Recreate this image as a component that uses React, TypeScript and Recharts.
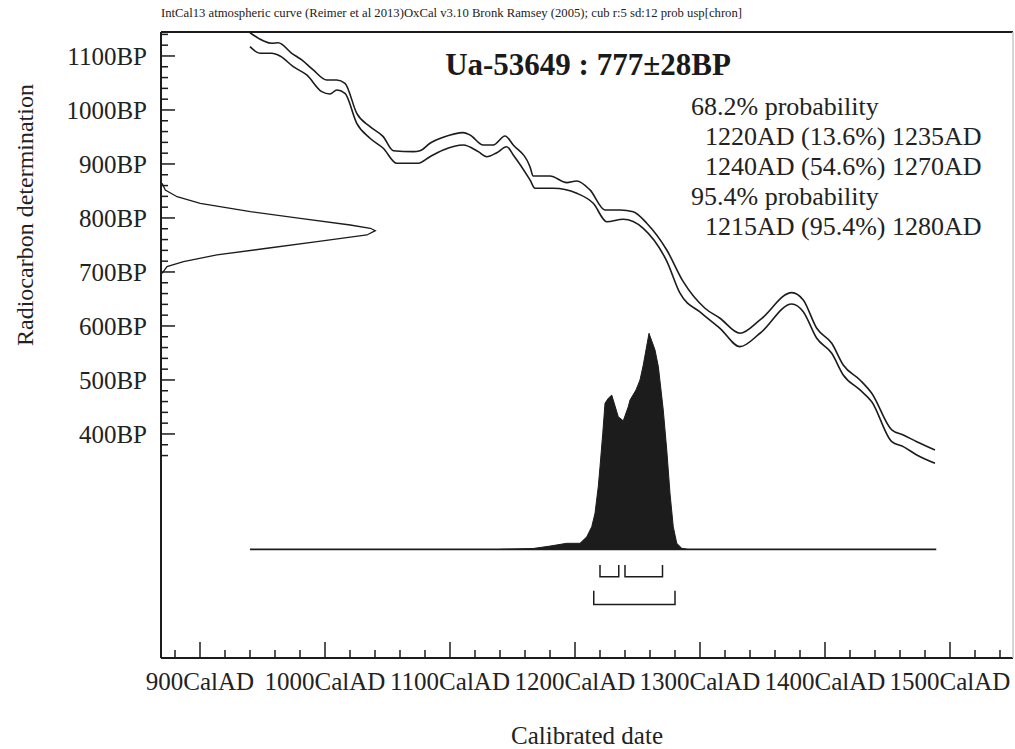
import React from "react";
import { ComposedChart, Line, Area, XAxis, YAxis, ReferenceLine } from "recharts";

// header / annotation text
const headerText =
  "IntCal13 atmospheric curve (Reimer et al 2013)OxCal v3.10 Bronk Ramsey (2005); cub r:5 sd:12 prob usp[chron]";
const titleText = "Ua-53649 : 777±28BP";
const probHeadings = ["68.2% probability", "95.4% probability"];
const oneSigmaText = ["1220AD (13.6%) 1235AD", "1240AD (54.6%) 1270AD"];
const twoSigmaText = ["1215AD (95.4%) 1280AD"];

// axes
const xTicks = [880, 900, 920, 940, 960, 980, 1000, 1020, 1040, 1060, 1080, 1100, 1120, 1140, 1160, 1180, 1200, 1220, 1240, 1260, 1280, 1300, 1320, 1340, 1360, 1380, 1400, 1420, 1440, 1460, 1480, 1500, 1520, 1540];
const xLabelYears = [900, 1000, 1100, 1200, 1300, 1400, 1500];
const yTicks = [360, 380, 400, 420, 440, 460, 480, 500, 520, 540, 560, 580, 600, 620, 640, 660, 680, 700, 720, 740, 760, 780, 800, 820, 840, 860, 880, 900, 920, 940, 960, 980, 1000, 1020, 1040, 1060, 1080, 1100, 1120, 1140];
const yLabelBP = [400, 500, 600, 700, 800, 900, 1000, 1100];

// calibration curve (IntCal13 +/- 1 sigma)
const upperYears = [940, 950.6, 957.4, 962.6, 973.4, 981.4, 990.6, 1001.4, 1009.4, 1016, 1025.4, 1036, 1046.6, 1054.6, 1070.6, 1076, 1084, 1094.6, 1110.6, 1116, 1126.6, 1134.6, 1144, 1150.6, 1164, 1166.6, 1180, 1193.4, 1201.4, 1212, 1224, 1236, 1246.6, 1257.4, 1273.4, 1286.6, 1304, 1316, 1332, 1348, 1373.4, 1382.6, 1393.4, 1405.4, 1414.6, 1428, 1437.4, 1453.4, 1462.6, 1473.4, 1488];
const upperBP = [1143, 1128.3, 1123.5, 1124.6, 1105, 1092.6, 1074.1, 1055.6, 1055.6, 1049.4, 993.9, 969.1, 950.6, 924.6, 922.8, 924.6, 938.3, 949.4, 958, 953.7, 935.2, 935.2, 951.9, 935.2, 895, 877.8, 877.8, 865.4, 868.5, 851.9, 814.8, 814.8, 811.7, 790.2, 740.7, 682, 632.8, 614.3, 586.5, 611.1, 661.7, 648.1, 595.7, 568, 527.8, 500, 475.4, 407.4, 398.1, 385.7, 370.4];
const lowerYears = [940, 948, 957.4, 964, 974.6, 985.4, 997.4, 1004, 1009.4, 1016, 1025.4, 1036, 1046.6, 1057.4, 1074.6, 1084, 1094.6, 1110.6, 1122.6, 1129.4, 1137.4, 1145.4, 1150.6, 1164, 1168, 1182.6, 1201.4, 1214.6, 1225.4, 1238.6, 1254.6, 1273.4, 1284, 1301.4, 1316, 1332, 1348, 1373.4, 1382.6, 1393.4, 1405.4, 1414.6, 1428, 1437.4, 1453.4, 1462.6, 1473.4, 1488];
const lowerBP = [1117.2, 1105, 1105, 1100, 1080.2, 1064.8, 1033.9, 1029.6, 1037, 1030.9, 975.4, 947.6, 929.1, 901.3, 901.3, 913.5, 925.9, 935.2, 922.8, 913.5, 920.9, 932, 916.7, 870.4, 855, 855, 845.7, 827.2, 793.1, 797.6, 780.9, 720, 660.6, 623.5, 595.7, 561.7, 586.5, 640.7, 626.5, 577.2, 549.4, 509.3, 481.5, 459.8, 385.7, 376.5, 361.1, 345.7];

// radiocarbon measurement 777 +/- 28 BP (relative probability, drawn from the left axis)
const gaussBP = [864.3, 851.9, 839.4, 827.2, 811.7, 799.4, 787, 780.9, 776.5, 768.5, 756.1, 743.9, 731.5, 719.1, 709.9, 697.6];
const gaussProb = [0.005, 0.02, 0.075, 0.183, 0.417, 0.65, 0.883, 0.977, 1, 0.961, 0.728, 0.495, 0.261, 0.105, 0.028, 0.005];

// calibrated date distribution
const postYears = [1140, 1166.6, 1180, 1193.4, 1204, 1209.4, 1213.4, 1216, 1218.6, 1220, 1222.2, 1224, 1226.6, 1229.4, 1234.6, 1238.6, 1242.6, 1244, 1248.8, 1252, 1254.6, 1259.2, 1264, 1266.7, 1270.6, 1273.4, 1276, 1278.6, 1281.4, 1285.4, 1290];
const postProb = [0, 0.004, 0.015, 0.028, 0.028, 0.058, 0.105, 0.167, 0.29, 0.382, 0.537, 0.676, 0.699, 0.714, 0.614, 0.595, 0.66, 0.691, 0.738, 0.784, 0.853, 1, 0.923, 0.845, 0.645, 0.46, 0.259, 0.105, 0.028, 0.005, 0];
const baselineYears = [940, 1489];

// ranges
const oneSigmaRanges = [[1220, 1235], [1240, 1270]];
const twoSigmaRanges = [[1215, 1280]];
const oneSigmaLevels = [-0.073, -0.127];
const twoSigmaLevels = [-0.192, -0.255];

const upperData = upperYears.map((year, i) => ({ year, bp: upperBP[i] }));
const lowerData = lowerYears.map((year, i) => ({ year, bp: lowerBP[i] }));
const gaussData = gaussBP.map((bp, i) => ({ g: gaussProb[i], bp }));
const postData = postYears.map((year, i) => ({ year, prob: postProb[i] }));
const baselineData = baselineYears.map((year) => ({ year, prob: 0 }));

const bracket = (r: number[], lv: number[]) => [
  { year: r[0], prob: lv[0] },
  { year: r[0], prob: lv[1] },
  { year: r[1], prob: lv[1] },
  { year: r[1], prob: lv[0] },
];
const brackets = [
  ...oneSigmaRanges.map((r) => bracket(r, oneSigmaLevels)),
  ...twoSigmaRanges.map((r) => bracket(r, twoSigmaLevels)),
];

const X_DOMAIN = [868.8, 1550.4];
const Y_DOMAIN = [-14.9, 1144.4];
// tick lengths in axis units (1.25 px / year, 0.54 px / BP)
const XTICK_MAJOR = 29.6;
const XTICK_MINOR = 14.8;
const YTICK_MAJOR = 11.2;
const YTICK_MINOR = 5.6;
const INK = "#1c1c1c";
const FONT = "'Liberation Serif', 'DejaVu Serif', serif";
const labelStyle = { fontSize: 25, fontFamily: FONT, fill: "#222" };

export default function App() {
  return (
    <div style={{ position: "absolute", left: 0, top: 0, width: 1015, height: 749, background: "#fff" }}>
      <ComposedChart width={1015} height={749} margin={{ top: 32, right: 2, bottom: 91, left: 161 }}>
        <XAxis xAxisId="yr" dataKey="year" type="number" domain={X_DOMAIN} allowDataOverflow hide />
        <XAxis xAxisId="g" dataKey="g" type="number" domain={[0, 3.976]} allowDataOverflow hide />
        <YAxis yAxisId="bp" type="number" domain={Y_DOMAIN} allowDataOverflow hide />
        <YAxis yAxisId="prob" type="number" domain={[-0.503, 2.395]} allowDataOverflow hide />

        {/* frame */}
        <ReferenceLine xAxisId="yr" yAxisId="bp" y={Y_DOMAIN[1]} stroke={INK} strokeWidth={2} />
        <ReferenceLine xAxisId="yr" yAxisId="bp" y={Y_DOMAIN[0]} stroke={INK} strokeWidth={2} />
        <ReferenceLine xAxisId="yr" yAxisId="bp" x={X_DOMAIN[0]} stroke={INK} strokeWidth={2} />
        <ReferenceLine xAxisId="yr" yAxisId="bp" x={X_DOMAIN[1]} stroke="#c8c8c8" strokeWidth={1.5} />

        {xTicks.map((v) => (
          <ReferenceLine
            key={"xt" + v}
            xAxisId="yr"
            yAxisId="bp"
            segment={[
              { x: v, y: Y_DOMAIN[0] },
              { x: v, y: Y_DOMAIN[0] + (v % 100 === 0 ? XTICK_MAJOR : XTICK_MINOR) },
            ]}
            stroke={INK}
            strokeWidth={1.5}
            label={xLabelYears.includes(v) ? { value: `${v}CalAD`, position: "bottom", offset: 14, ...labelStyle } : undefined}
          />
        ))}
        {yTicks.map((v) => (
          <ReferenceLine
            key={"yt" + v}
            xAxisId="yr"
            yAxisId="bp"
            segment={[
              { x: X_DOMAIN[0], y: v },
              { x: X_DOMAIN[0] + (v % 100 === 0 ? YTICK_MAJOR : YTICK_MINOR), y: v },
            ]}
            stroke={INK}
            strokeWidth={1.5}
            label={yLabelBP.includes(v) ? { value: `${v}BP`, position: "left", offset: 14, ...labelStyle } : undefined}
          />
        ))}

        <Line xAxisId="yr" yAxisId="bp" data={upperData} dataKey="bp" type="monotone" stroke={INK} strokeWidth={1.6} dot={false} activeDot={false} isAnimationActive={false} />
        <Line xAxisId="yr" yAxisId="bp" data={lowerData} dataKey="bp" type="monotone" stroke={INK} strokeWidth={1.6} dot={false} activeDot={false} isAnimationActive={false} />
        <Line xAxisId="g" yAxisId="bp" data={gaussData} dataKey="bp" type="linear" stroke={INK} strokeWidth={1.3} dot={false} activeDot={false} isAnimationActive={false} />

        <Area xAxisId="yr" yAxisId="prob" data={postData} dataKey="prob" type="linear" baseValue={0} fill={INK} fillOpacity={1} stroke={INK} strokeWidth={1} isAnimationActive={false} />
        <Line xAxisId="yr" yAxisId="prob" data={baselineData} dataKey="prob" type="linear" stroke={INK} strokeWidth={1.6} dot={false} activeDot={false} isAnimationActive={false} />
        {brackets.map((b, i) => (
          <Line key={i} xAxisId="yr" yAxisId="prob" data={b} dataKey="prob" type="linear" stroke={INK} strokeWidth={1.5} dot={false} activeDot={false} isAnimationActive={false} />
        ))}
      </ComposedChart>

      <svg width={1015} height={749} style={{ position: "absolute", left: 0, top: 0, pointerEvents: "none" }}>
        <text x={161} y={17} fontSize={13} fontFamily={FONT} fill="#222" textLength={581} lengthAdjust="spacingAndGlyphs">
          {headerText}
        </text>
        <text x={588} y={75} textAnchor="middle" fontSize={31} fontWeight="bold" fontFamily={FONT} fill="#1a1a1a">
          {titleText}
        </text>
        <text x={691} y={115} fontSize={26} fontFamily={FONT} fill="#222">{probHeadings[0]}</text>
        <text x={705} y={145} fontSize={26} fontFamily={FONT} fill="#222">{oneSigmaText[0]}</text>
        <text x={705} y={175} fontSize={26} fontFamily={FONT} fill="#222">{oneSigmaText[1]}</text>
        <text x={691} y={205} fontSize={26} fontFamily={FONT} fill="#222">{probHeadings[1]}</text>
        <text x={705} y={235} fontSize={26} fontFamily={FONT} fill="#222">{twoSigmaText[0]}</text>
        <text x={587} y={744} textAnchor="middle" fontSize={25} fontFamily={FONT} fill="#222">
          Calibrated date
        </text>
        <text x={33} y={215} textAnchor="middle" fontSize={24} fontFamily={FONT} fill="#222" transform="rotate(-90 33 215)">
          Radiocarbon determination
        </text>
      </svg>
    </div>
  );
}
